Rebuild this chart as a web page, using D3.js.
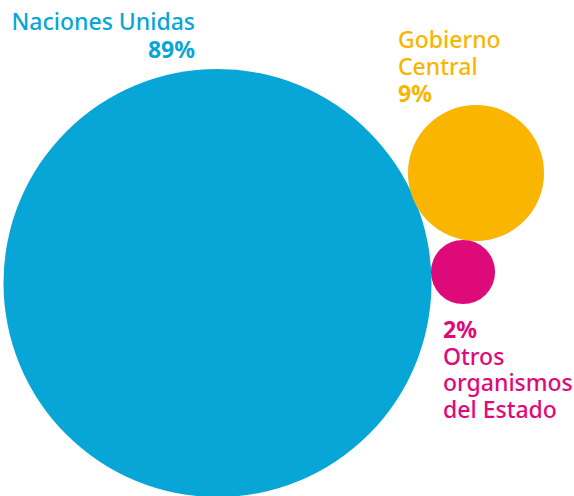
<!DOCTYPE html>
<html>
<head>
<meta charset="utf-8">
<script src="https://cdn.jsdelivr.net/npm/d3@7"></script>
<style>
  body { margin: 0; background: #fff; }
  text { font-family: "Noto Sans", sans-serif; }
</style>
</head>
<body>
<div id="chart"></div>
<script>
var svgWidth = 574;
var svgHeight = 496;

// data
var categories = ["Naciones Unidas", "Gobierno Central", "Otros organismos del Estado"];
var shares = [89, 9, 2];
var colors = ["#08a6d6", "#f9b500", "#df0a79"];

// circle centres (layout only)
var centres = [[217.5, 283], [476, 173], [463, 272]];

var svg = d3.select("#chart")
  .append("svg")
  .attr("width", svgWidth)
  .attr("height", svgHeight);

// area proportional to share
var rScale = d3.scaleSqrt()
  .domain([0, d3.max(shares)])
  .range([0, 214]);

var nodes = shares.map(function(v, i) {
  return { name: categories[i], value: v, color: colors[i], x: centres[i][0], y: centres[i][1] };
});

svg.selectAll("circle")
  .data(nodes)
  .enter()
  .append("circle")
  .attr("cx", d => d.x)
  .attr("cy", d => d.y)
  .attr("r", d => rScale(d.value))
  .attr("fill", d => d.color);

// labels
var fs = 23;
function label(x, y, anchor, lines, color) {
  var t = svg.append("text")
    .attr("x", x)
    .attr("y", y)
    .attr("text-anchor", anchor)
    .attr("fill", color)
    .attr("font-size", fs);
  lines.forEach(function(l, i) {
    t.append("tspan")
      .attr("x", x)
      .attr("dy", i === 0 ? 0 : l.dy)
      .attr("font-weight", l.bold ? 700 : 500)
      .text(l.text);
  });
}

label(195, 30, "end", [
  { text: "Naciones Unidas" },
  { text: shares[0] + "%", bold: true, dy: 28 }
], colors[0]);

label(398, 48, "start", [
  { text: "Gobierno" },
  { text: "Central", dy: 27 },
  { text: shares[1] + "%", bold: true, dy: 27 }
], colors[1]);

label(443, 338, "start", [
  { text: shares[2] + "%", bold: true },
  { text: "Otros", dy: 27 },
  { text: "organismos", dy: 26 },
  { text: "del Estado", dy: 27 }
], colors[2]);
</script>
</body>
</html>
